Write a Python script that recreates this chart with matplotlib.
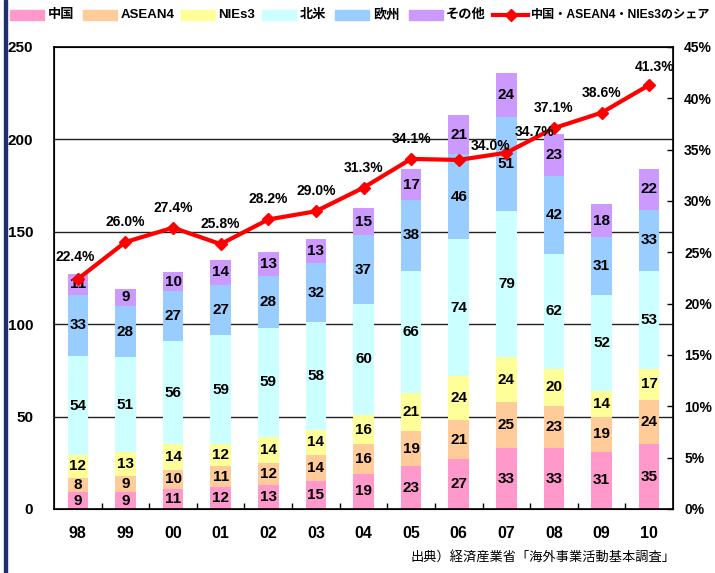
"""
日系製造業の海外現地法人数（地域別）とアジア比率
"""

import matplotlib
matplotlib.use("Agg")
import matplotlib.pyplot as plt
from matplotlib.patches import Rectangle
from matplotlib.lines import Line2D

plt.rcParams["font.family"] = ["Liberation Sans", "Noto Sans CJK JP", "DejaVu Sans"]
plt.rcParams["axes.unicode_minus"] = False

years = ["98", "99", "00", "01", "02", "03", "04", "05", "06", "07", "08", "09", "10"]
china = [9, 9, 11, 12, 13, 15, 19, 23, 27, 33, 33, 31, 35]
asean4 = [8, 9, 10, 11, 12, 14, 16, 19, 21, 25, 23, 19, 24]
nies3 = [12, 13, 14, 12, 14, 14, 16, 21, 24, 24, 20, 14, 17]
north_america = [54, 51, 56, 59, 59, 58, 60, 66, 74, 79, 62, 52, 53]
europe = [33, 28, 27, 27, 28, 32, 37, 38, 46, 51, 42, 31, 33]
others = [11, 9, 10, 14, 13, 13, 15, 17, 21, 24, 23, 18, 22]
asia_share = [22.4, 26.0, 27.4, 25.8, 28.2, 29.0, 31.3, 34.1, 34.0, 34.7, 37.1, 38.6, 41.3]

series = [
    ("中国", china, "#FF99CC"),
    ("ASEAN4", asean4, "#FFCC99"),
    ("NIEs3", nies3, "#FFFF99"),
    ("北米", north_america, "#CCFFFF"),
    ("欧州", europe, "#99CCFF"),
    ("その他", others, "#CC99FF"),
]
share_label = "中国・ASEAN4・NIEs3のシェア"

# ラベル位置の個別調整（ピクセル）
label_offsets = {0: (-3, 22), 8: (32, 14), 9: (28, 21), 12: (5, 18)}

fig = plt.figure(figsize=(7.15, 5.73), dpi=100)
ax = fig.add_axes([54 / 715, 64 / 573, 619 / 715, 462 / 573])

x = list(range(len(years)))
bottom = [0] * len(years)
for name, vals, color in series:
    ax.bar(x, vals, width=0.43, bottom=bottom, color=color, zorder=2)
    for xi, b, v in zip(x, bottom, vals):
        ax.text(xi, b + v / 2, str(v), ha="center", va="center",
                fontsize=11, fontweight="bold", zorder=3)
    bottom = [b + v for b, v in zip(bottom, vals)]

ax.set_xlim(-0.5, len(years) - 0.5)
ax.set_ylim(0, 250)
ax.set_yticks(range(0, 251, 50))
for yv in [50, 100, 150, 200]:
    ax.axhline(yv, color="#222222", linewidth=1, zorder=1)
ax.tick_params(axis="y", length=0, pad=15, labelsize=11)
for t in ax.get_yticklabels():
    t.set_fontweight("bold")

ax.set_xticks(x)
ax.set_xticklabels(years, fontsize=11.5, fontweight="bold")
ax.set_xticks([i + 0.5 for i in x[:-1]], minor=True)
ax.tick_params(axis="x", which="major", length=0, pad=12)
ax.tick_params(axis="x", which="minor", direction="in", length=4, width=1)
for sp in ax.spines.values():
    sp.set_linewidth(1.2)
    sp.set_color("black")

# シェア（右軸）
ax2 = ax.twinx()
ax2.plot(x, asia_share, color="#FF0000", linewidth=3, marker="D",
         markersize=6, zorder=4)
ax2.set_ylim(0, 45)
ax2.set_yticks(range(0, 46, 5))
ax2.set_yticklabels([f"{v}%" for v in range(0, 46, 5)], fontsize=10, fontweight="bold")
ax2.tick_params(axis="y", direction="in", length=4, width=1, pad=8)
for i, v in enumerate(asia_share):
    dx, dy = label_offsets.get(i, (0, 20))
    ax2.annotate(f"{v:.1f}%", (i, v), xytext=(dx, dy), textcoords="offset pixels",
                 ha="center", va="center", fontsize=10, fontweight="bold", zorder=5)

# 凡例
def fx(px):
    return px / 715

def fy(py):
    return 1 - py / 573

legend_items = [(10, 48, "中国", "#FF99CC"), (83, 121, "ASEAN4", "#FFCC99"),
                (181, 218, "NIEs3", "#FFFF99"), (262, 300, "北米", "#CCFFFF"),
                (335, 373, "欧州", "#99CCFF"), (409, 446, "その他", "#CC99FF")]
for px, tx, name, color in legend_items:
    fig.add_artist(Rectangle((fx(px), fy(20)), fx(34), 10 / 573,
                             transform=fig.transFigure, color=color))
    fig.text(fx(tx), fy(15), name, ha="left", va="center", fontsize=9.5, fontweight="bold")
fig.add_artist(Line2D([fx(493), fx(528)], [fy(15), fy(15)], transform=fig.transFigure,
                      color="#FF0000", linewidth=3))
fig.add_artist(Line2D([fx(510.5)], [fy(15)], transform=fig.transFigure,
                      color="#FF0000", marker="D", markersize=6, linestyle="none"))
fig.text(fx(531), fy(15), share_label, ha="left", va="center", fontsize=8.7, fontweight="bold")

fig.text(fx(410), fy(557), "出典）経済産業省「海外事業活動基本調査」", ha="left", va="center",
         fontsize=9.5, family=["Noto Sans CJK JP"])

# 左端の帯
fig.add_artist(Rectangle((fx(4), 0), fx(3), 1, transform=fig.transFigure, color="#1F2F70"))

fig.savefig("out.png", dpi=100, facecolor="white")
